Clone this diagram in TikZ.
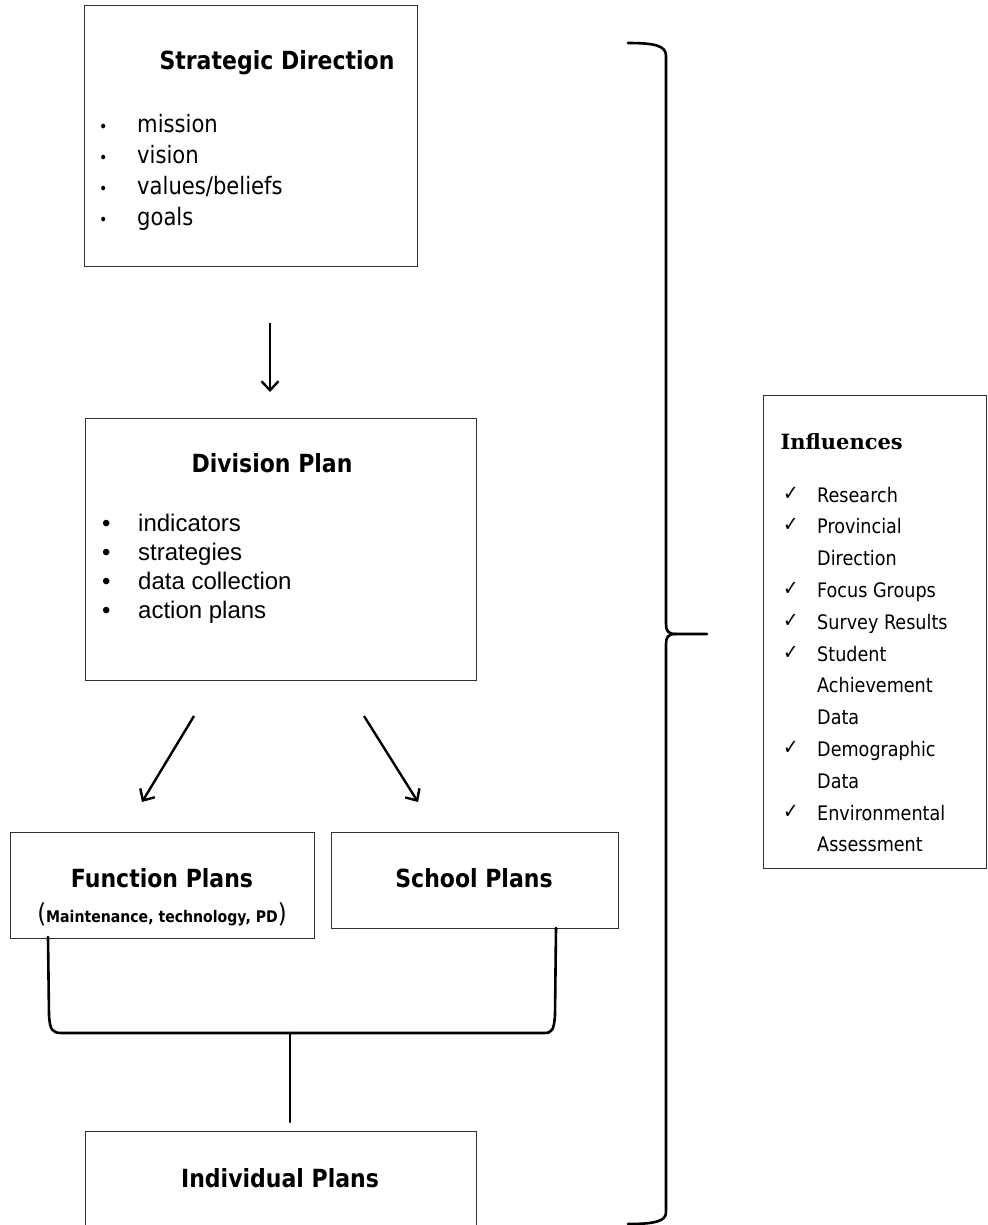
\documentclass[tikz,border=0pt]{standalone}
\usepackage{fontspec}
\setmainfont{DejaVu Sans}[FakeStretch=0.88]
\newfontfamily\arialfont{Liberation Sans}
\newfontfamily\cambfont{DejaVu Serif}
\usetikzlibrary{arrows.meta}

\tikzset{
  box/.style={draw=black!80, line width=1.3pt, inner sep=0pt, anchor=north west},
  ttl/.style={font=\fontsize{25}{30}\selectfont\bfseries},
  item/.style={anchor=base west, inner sep=0pt, font=\fontsize{24}{29}\selectfont},
  ditem/.style={anchor=base west, inner sep=0pt, font=\arialfont\fontsize{24}{29}\selectfont},
  infitem/.style={anchor=base west, inner sep=0pt, font=\fontsize{20}{24}\selectfont},
  arr/.style={line width=2.4pt, -{Straight Barb[length=9pt,width=17pt]}},
  brace/.style={line width=2.6pt, line join=round, line cap=round},
}

\begin{document}
\begin{tikzpicture}[x=1pt,y=-1pt]
  \useasboundingbox (0,0) rectangle (987,1225);

  % boxes
  \node[box, minimum width=333pt, minimum height=261pt] (strat) at (84,5) {};
  \node[box, minimum width=391pt, minimum height=262pt] (div) at (85,418) {};
  \node[box, minimum width=304pt, minimum height=106pt] (func) at (10,832) {};
  \node[box, minimum width=287pt, minimum height=96pt] (school) at (331,832) {};
  \node[box, minimum width=391pt, minimum height=110pt] (indiv) at (85,1131) {};
  \node[box, minimum width=223pt, minimum height=473pt] (infl) at (763,395) {};

  % titles
  \node[ttl] (strattl) at (277,63) {Strategic Direction};
  \node[ttl] (divttl) at (272,463) {Division Plan};
  \node[ttl] (functl) at (162,878) {Function Plans};
  \node (funcsub) at (162,914) {\fontsize{26}{30}\selectfont(\fontsize{16}{20}\selectfont\bfseries Maintenance, technology, PD\fontsize{26}{30}\selectfont\mdseries)};
  \node[ttl] (schooltl) at (474,878) {School Plans};
  \node[ttl] (indivttl) at (280,1178) {Individual Plans};
  \node[anchor=west, font=\cambfont\bfseries\fontsize{21}{25}\selectfont] (infltl) at (777,442) {Influences};

  % lists
  \foreach \t [count=\i] in {mission,vision,{values/beliefs},goals}{
    \node[item] (sdb\i) at (99,{133+30.7*(\i-1)}) {\fontsize{16}{20}\selectfont•};
    \node[item] (sdi\i) at (137,{133+30.7*(\i-1)}) {\t};
  }
  \foreach \t [count=\i] in {indicators,strategies,data collection,action plans}{
    \node[ditem] (dpb\i) at (102,{531+29.2*(\i-1)}) {•};
    \node[ditem] (dpi\i) at (138,{531+29.2*(\i-1)}) {\t};
  }
  \foreach \t [count=\i] in {Research,Provincial,Direction,Focus Groups,Survey Results,Student,Achievement,Data,Demographic,Data,Environmental,Assessment}{
    \node[infitem] (inf\i) at (817,{502+31.8*(\i-1)}) {\t};
  }
  \foreach \i in {1,2,4,5,6,9,11}{
    \node[infitem, font=\fontsize{21}{24}\selectfont] (chk\i) at (783,{500+31.8*(\i-1)}) {✓};
  }

  % arrows
  \coordinate (a1s) at (270,323); \coordinate (a1e) at (270,392);
  \coordinate (a2s) at (194,716); \coordinate (a2e) at (142,802);
  \coordinate (a3s) at (364,716); \coordinate (a3e) at (418,802);
  \draw[arr] (a1s) -- (a1e);
  \draw[arr] (a2s) -- (a2e);
  \draw[arr] (a3s) -- (a3e);

  % bracket under function and school plans
  \coordinate (jn) at (290,1033);
  \coordinate (stemend) at (290,1122);
  \draw[brace] (48,937) -- (49,1015) .. controls (50,1030) and (52,1033) .. (62,1033)
    -- (544,1033) .. controls (552,1033) and (554,1030) .. (555,1015) -- (556,928);
  \draw[brace] (jn) -- (stemend);

  % big bracket
  \coordinate (tip) at (707,634);
  \draw[brace] (628,43) .. controls (656,43) and (666,46) .. (666,56) -- (666,624)
    .. controls (666,631) and (668,634) .. (676,634) -- (tip);
  \draw[brace] (676,634) .. controls (668,634) and (666,637) .. (666,644) -- (666,1212)
    .. controls (666,1221) and (656,1224) .. (628,1224);
\end{tikzpicture}
\end{document}
